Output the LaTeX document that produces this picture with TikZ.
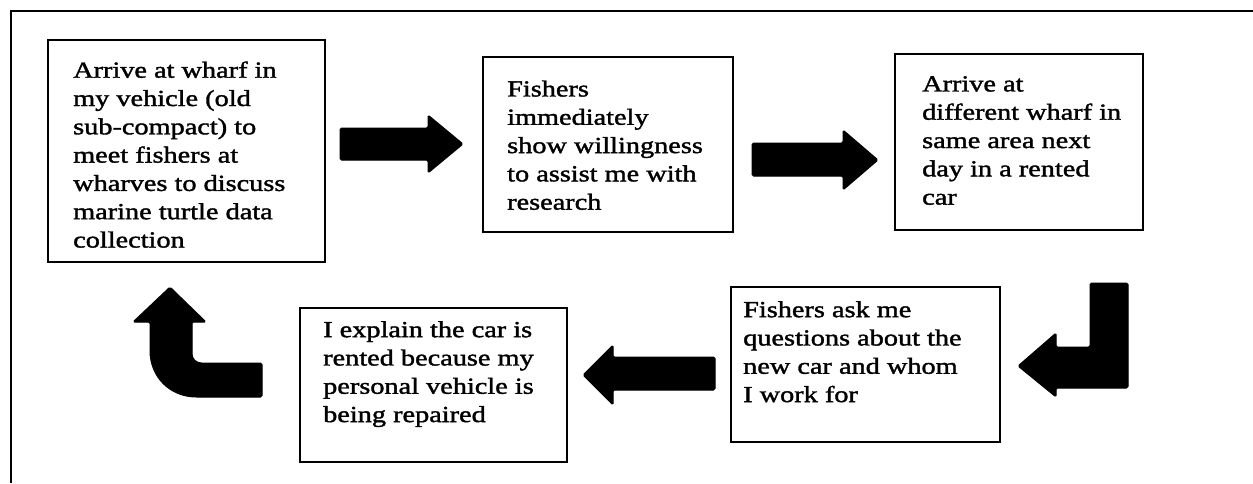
\documentclass[tikz,border=0pt]{standalone}
\usepackage{fontspec}
\setmainfont[FakeStretch=1.23,UprightFeatures={FakeBold=1.6}]{Liberation Serif}
\begin{document}
\begin{tikzpicture}[x=1pt,y=-1pt,
  box/.style={draw=black,line width=1.8pt,inner sep=0pt,outer sep=0pt,anchor=north west},
  txt/.style={anchor=north west,inner sep=0pt,align=left,font=\fontsize{23}{28.3}\selectfont},
  blockarrow/.style={fill=black,draw=black,line width=1pt,line join=round,rounded corners=1.5pt}]
\useasboundingbox (0,0) rectangle (1253,483);
\fill[white] (0,0) rectangle (1253,483);
\draw[line width=2pt] (1253,11) -- (11,11) -- (11,483);
% boxes
\node[box,minimum width=277pt,minimum height=222pt] (b1) at (48,40) {};
\node[box,minimum width=250pt,minimum height=175pt] (b2) at (483,57) {};
\node[box,minimum width=248pt,minimum height=176pt] (b3) at (895,54) {};
\node[box,minimum width=269pt,minimum height=155pt] (b4) at (731,287) {};
\node[box,minimum width=267pt,minimum height=154pt] (b5) at (300,308) {};
% texts
\node[txt] (t1) at (73,61.3) {Arrive at wharf in\\my vehicle (old\\sub-compact) to\\meet fishers at\\wharves to discuss\\marine turtle data\\collection};
\node[txt] (t2) at (507,80.3) {Fishers\\immediately\\show willingness\\to assist me with\\research};
\node[txt] (t3) at (922,76) {Arrive at\\different wharf in\\same area next\\day in a rented\\car};
\node[txt] (t4) at (743,301) {Fishers ask me\\questions about the\\new car and whom\\I work for};
\node[txt] (t5) at (323,321) {I explain the car is\\rented because my\\personal vehicle is\\being repaired};
% block arrows
\draw[blockarrow] (340,128) -- (428,128) -- (428,115) -- (463,144) -- (428,173) -- (428,160) -- (340,160) -- cycle;
\draw[blockarrow] (752,143) -- (843,143) -- (843,130) -- (878,160) -- (843,190) -- (843,176) -- (752,176) -- cycle;
\draw[blockarrow] (715,357) -- (613,357) -- (613,345) -- (583,375) -- (613,405) -- (613,390) -- (715,390) -- cycle;
\draw[blockarrow] (1090,283) -- (1128,283) -- (1128,388) -- (1056,388) -- (1056,397) -- (1018,366) -- (1056,333) -- (1056,347) -- (1090,347) -- cycle;
\draw[blockarrow] (170,287) -- (206,322) -- (192,322) -- (192,352) .. controls (192,359) and (196,363) .. (203,363) -- (262,363) -- (262,397) -- (198,397) .. controls (170,397) and (150,377) .. (150,349) -- (150,322) -- (133,322) -- cycle;
\end{tikzpicture}
\end{document}
